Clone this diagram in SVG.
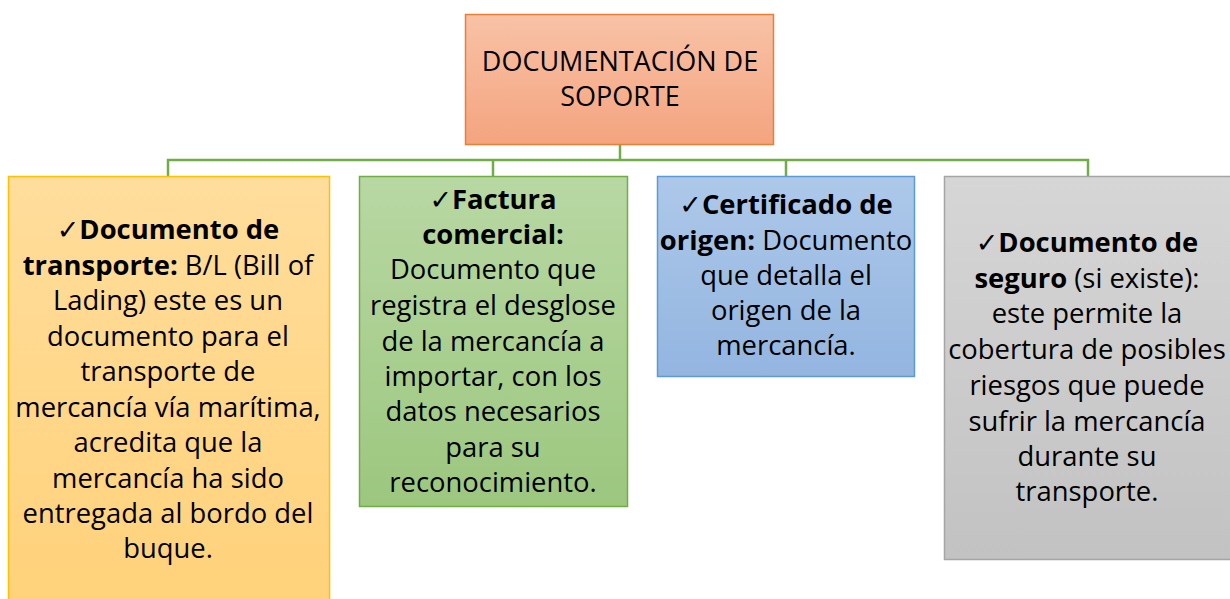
<svg xmlns="http://www.w3.org/2000/svg" width="1230" height="599" viewBox="0 0 1230 599">
<defs>
<linearGradient id="gO" x1="0" y1="0" x2="0" y2="1"><stop offset="0" stop-color="#F8C2A6"/><stop offset="1" stop-color="#F4A47F"/></linearGradient>
<linearGradient id="gY" x1="0" y1="0" x2="0" y2="1"><stop offset="0" stop-color="#FFDD9C"/><stop offset="1" stop-color="#FFD27A"/></linearGradient>
<linearGradient id="gG" x1="0" y1="0" x2="0" y2="1"><stop offset="0" stop-color="#B8D8A3"/><stop offset="1" stop-color="#9CC77F"/></linearGradient>
<linearGradient id="gB" x1="0" y1="0" x2="0" y2="1"><stop offset="0" stop-color="#ADC8E9"/><stop offset="1" stop-color="#93B5E0"/></linearGradient>
<linearGradient id="gS" x1="0" y1="0" x2="0" y2="1"><stop offset="0" stop-color="#D6D6D6"/><stop offset="1" stop-color="#C2C2C2"/></linearGradient>
</defs>
<style>
text{font-family:"Open Sans","Liberation Sans",sans-serif;font-size:27.4px;fill:#000;text-anchor:middle}
.t{font-size:27px}
.b{font-weight:bold}
.ck{font-family:"DejaVu Sans",sans-serif;font-size:27px}
.conn{stroke:#70AD47;stroke-width:2.5;fill:none}
</style>
<g id="connectors">
<path class="conn" d="M620 145V160M168 176V160H1088V176M493 160V176M786 160V176"/>
</g>
<g id="root">
<rect x="465.5" y="14.5" width="308" height="130" fill="url(#gO)" stroke="#ED7D31" stroke-width="1.5"/>
<text class="t" x="620" y="71">DOCUMENTACIÓN DE</text>
<text class="t" x="620" y="106">SOPORTE</text>
</g>
<g id="transporte">
<rect x="8.5" y="176.5" width="321" height="430" fill="url(#gY)" stroke="#FFC000" stroke-width="1.5"/>
<text x="168" y="239"><tspan class="ck">✓</tspan><tspan class="b">Documento de</tspan></text>
<text x="168" y="275"><tspan class="b">transporte:</tspan> B/L (Bill of</text>
<text x="168" y="310">Lading) este es un</text>
<text x="168" y="346">documento para el</text>
<text x="168" y="381">transporte de</text>
<text x="168" y="417">mercancía vía marítima,</text>
<text x="168" y="452">acredita que la</text>
<text x="168" y="488">mercancía ha sido</text>
<text x="168" y="523">entregada al bordo del</text>
<text x="168" y="558">buque.</text>
</g>
<g id="factura">
<rect x="359.5" y="176.5" width="268" height="330" fill="url(#gG)" stroke="#70AD47" stroke-width="1.5"/>
<text x="493" y="209"><tspan class="ck">✓</tspan><tspan class="b">Factura</tspan></text>
<text x="493" y="244" class="b">comercial:</text>
<text x="493" y="279">Documento que</text>
<text x="493" y="315">registra el desglose</text>
<text x="493" y="351">de la mercancía a</text>
<text x="493" y="386">importar, con los</text>
<text x="493" y="421">datos necesarios</text>
<text x="493" y="457">para su</text>
<text x="493" y="492">reconocimiento.</text>
</g>
<g id="certificado">
<rect x="657.5" y="176.5" width="257" height="200" fill="url(#gB)" stroke="#5B9BD5" stroke-width="1.5"/>
<text x="786" y="214"><tspan class="ck">✓</tspan><tspan class="b">Certificado de</tspan></text>
<text x="786" y="250"><tspan class="b">origen:</tspan> Documento</text>
<text x="786" y="285">que detalla el</text>
<text x="786" y="320">origen de la</text>
<text x="786" y="355">mercancía.</text>
</g>
<g id="seguro">
<rect x="944.5" y="176.5" width="290" height="383" fill="url(#gS)" stroke="#A5A5A5" stroke-width="1.5"/>
<text x="1087" y="252"><tspan class="ck">✓</tspan><tspan class="b">Documento de</tspan></text>
<text x="1087" y="288"><tspan class="b">seguro</tspan> (si existe):</text>
<text x="1087" y="323">este permite la</text>
<text x="1087" y="359">cobertura de posibles</text>
<text x="1087" y="395">riesgos que puede</text>
<text x="1087" y="431">sufrir la mercancía</text>
<text x="1087" y="466">durante su</text>
<text x="1087" y="501">transporte.</text>
</g>
</svg>
